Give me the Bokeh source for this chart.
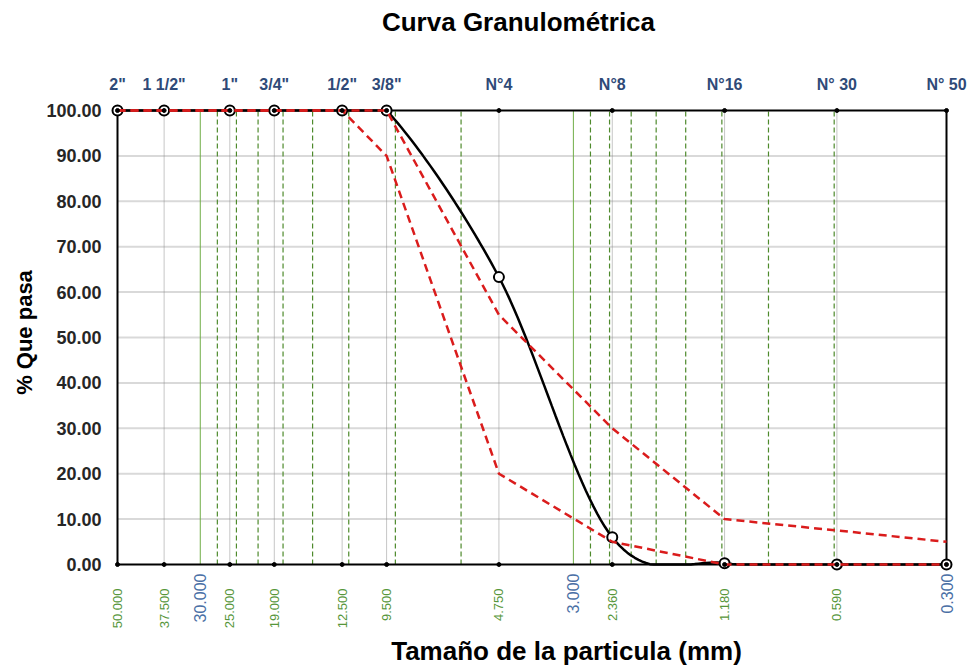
import numpy as np
from math import log10, pi
from bokeh.plotting import figure
from bokeh.models import Range1d
from bokeh.core.properties import value
from bokeh.embed import file_html
from bokeh.resources import INLINE

# ---------------- data ----------------
sieve_sizes = [50.0, 37.5, 25.0, 19.0, 12.5, 9.5, 4.75, 2.36, 1.18, 0.59, 0.3]
sieve_names = ['2"', '1 1/2"', '1"', '3/4"', '1/2"', '3/8"', 'N°4', 'N°8', 'N°16', 'N° 30', 'N° 50']
pct_passing = [100, 100, 100, 100, 100, 100, 63.3, 6.0, 0.3, 0.0, 0.0]
upper_limit = [100, 100, 100, 100, 100, 100, 55, 30, 10, 7.5, 5]
lower_limit = [100, 100, 100, 100, 100, 90, 20, 5, 0, 0, 0]
size_labels = [50.0, 37.5, 25.0, 19.0, 12.5, 9.5, 4.75, 2.36, 1.18, 0.59]
decade_labels = [30.0, 3.0, 0.3]
minor_dashed = [27, 24, 21, 18, 15, 12, 9, 6, 2.7, 2.4, 2.1, 1.8, 1.5, 1.2, 0.9, 0.6]
minor_solid = [30, 3]
y_ticks = list(range(0, 101, 10))

X_MAX, X_MIN = 50.0, 0.3      # axis bounds (reversed log axis)
Y_MIN, Y_MAX = 0.0, 100.0

# ---------------- layout (pixels) ----------------
W, H = 974, 666
PL, PR, PT, PB = 117, 946, 110, 564   # plot-area edges
FONT = "Liberation Sans"

KX = (PR - PL) / (log10(X_MAX) - log10(X_MIN))   # px per decade
KY = (PB - PT) / (Y_MAX - Y_MIN)                  # px per percent


def px2x(px):
    return 10 ** (log10(X_MAX) - (px - PL) / KX)


def py2y(py):
    return Y_MIN + (PB - py) / KY


def smooth(xs, ys, n=30):
    P = [(-log10(a) * KX, b * KY) for a, b in zip(xs, ys)]
    ox, oy = [], []
    m = len(P)
    for i in range(m - 1):
        p0 = P[i - 1] if i > 0 else P[i]
        p1, p2 = P[i], P[i + 1]
        p3 = P[i + 2] if i + 2 < m else P[i + 1]
        c1 = (p1[0] + (p2[0] - p0[0]) / 6, p1[1] + (p2[1] - p0[1]) / 6)
        c2 = (p2[0] - (p3[0] - p1[0]) / 6, p2[1] - (p3[1] - p1[1]) / 6)
        for t in np.linspace(0, 1, n, endpoint=(i == m - 2)):
            a, b, c, d = (1 - t) ** 3, 3 * t * (1 - t) ** 2, 3 * t * t * (1 - t), t ** 3
            X = a * p1[0] + b * c1[0] + c * c2[0] + d * p2[0]
            Y = a * p1[1] + b * c1[1] + c * c2[1] + d * p2[1]
            ox.append(10 ** (-X / KX))
            oy.append(Y / KY)
    # the plot area clips the curve
    return ox, list(np.clip(oy, Y_MIN, Y_MAX))


p = figure(width=W, height=H, x_axis_type="log",
           x_range=Range1d(px2x(0), px2x(W)), y_range=Range1d(py2y(H), py2y(0)),
           output_backend="svg", toolbar_location=None,
           min_border_left=0, min_border_right=0, min_border_top=0, min_border_bottom=0)
p.background_fill_color = "white"
p.border_fill_color = "white"
p.outline_line_color = None
p.axis.visible = False
p.grid.visible = False

# horizontal gridlines
hg = y_ticks[1:-1]
p.segment(x0=[X_MAX] * len(hg), y0=hg, x1=[X_MIN] * len(hg), y1=hg,
          line_color="#D9D9D9", line_width=2)

# vertical guide lines
n_s = len(sieve_sizes)
p.segment(x0=sieve_sizes, y0=[Y_MIN] * n_s, x1=sieve_sizes, y1=[Y_MAX] * n_s,
          line_color="#8C8C8C", line_width=1, line_dash="1 1")
n_d = len(minor_dashed)
p.segment(x0=minor_dashed, y0=[Y_MIN] * n_d, x1=minor_dashed, y1=[Y_MAX] * n_d,
          line_color="#4E8A2C", line_width=1.2, line_dash="5 3")
n_m = len(minor_solid)
p.segment(x0=minor_solid, y0=[Y_MIN] * n_m, x1=minor_solid, y1=[Y_MAX] * n_m,
          line_color="#70AD47", line_width=1)

# plot-area border
p.quad(left=[X_MAX], right=[X_MIN], bottom=[Y_MIN], top=[Y_MAX],
       fill_color=None, line_color="black", line_width=2)

# gradation curve (smoothed)
sx, sy = smooth(sieve_sizes, pct_passing)
p.line(sx, sy, line_color="black", line_width=2.5)
p.scatter(sieve_sizes, pct_passing, marker="circle", size=10,
          line_color="black", line_width=2, fill_color="white")

# limit curves
p.line(sieve_sizes, upper_limit, line_color="#DA1C1C", line_width=2.5, line_dash="8 5")
p.line(sieve_sizes, lower_limit, line_color="#DA1C1C", line_width=2.5, line_dash="8 5")

# small markers along top and bottom edges
p.scatter(sieve_sizes, [Y_MAX] * n_s, marker="circle", size=4, color="black")
p.scatter(sieve_sizes, [Y_MIN] * n_s, marker="circle", size=4, color="black")

# ---------------- texts ----------------
# y tick labels
p.text(x=[px2x(101)] * len(y_ticks), y=y_ticks, text=[f"{v:.2f}" for v in y_ticks],
       text_align="right", text_baseline="middle", text_font=value(FONT),
       text_font_style="bold", text_font_size="18px", text_color="#262626")

# top sieve names
p.text(x=sieve_sizes, y=[py2y(84)] * n_s, text=sieve_names,
       text_align="center", text_baseline="middle", text_font=value(FONT),
       text_font_style="bold", text_font_size="16px", text_color="#2F4A78")

# bottom size labels (green)
p.text(x=size_labels, y=[py2y(588)] * len(size_labels), text=[f"{v:.3f}" for v in size_labels],
       angle=pi / 2, text_align="right", text_baseline="middle", text_font=value(FONT),
       text_font_size="13px", text_color="#56963A")

# bottom decade labels (blue)
p.text(x=decade_labels, y=[py2y(573)] * len(decade_labels),
       text=[f"{v:.3f}" for v in decade_labels],
       angle=pi / 2, text_align="right", text_baseline="middle", text_font=value(FONT),
       text_font_size="16px", text_color="#4A6FA5")

# titles
p.text(x=[px2x(518)], y=[py2y(21)], text=["Curva Granulométrica"],
       text_align="center", text_baseline="middle", text_font=value(FONT),
       text_font_style="bold", text_font_size="26px", text_color="black")
p.text(x=[px2x(566)], y=[py2y(650)], text=["Tamaño de la particula (mm)"],
       text_align="center", text_baseline="middle", text_font=value(FONT),
       text_font_style="bold", text_font_size="26px", text_color="black")
p.text(x=[px2x(24)], y=[py2y(332)], text=["% Que pasa"], angle=pi / 2,
       text_align="center", text_baseline="middle", text_font=value(FONT),
       text_font_style="bold", text_font_size="22px", text_color="black")

open("out.html", "w").write(file_html(p, INLINE))
